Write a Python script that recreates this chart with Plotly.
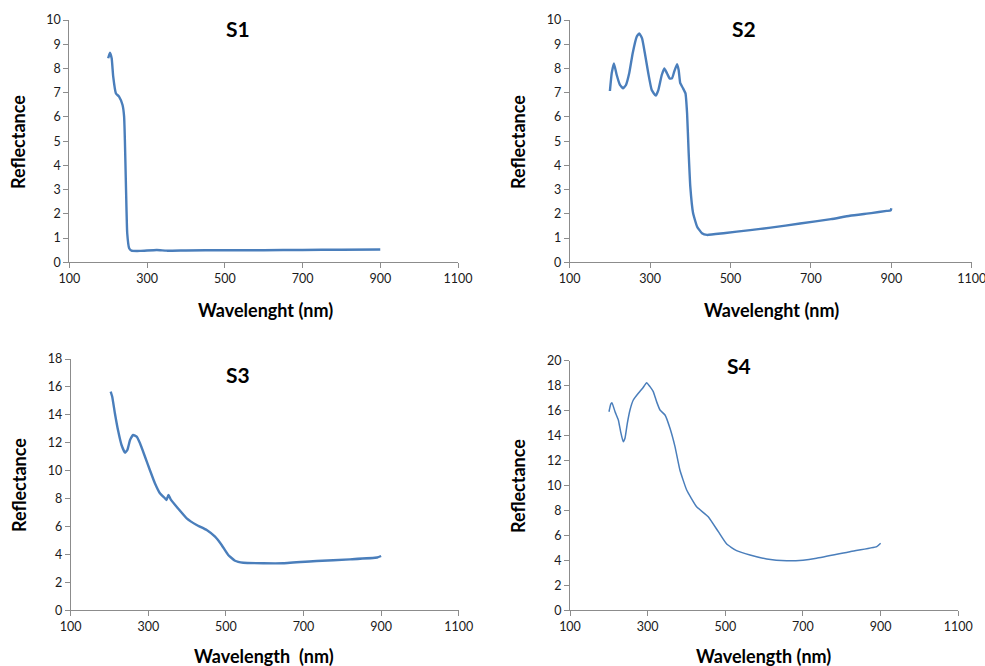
import plotly.graph_objects as go

# ---------------- data ----------------
s1_wl = [200, 204.6, 209, 213, 220, 228, 237, 241, 243, 246, 249, 254, 260, 282, 325, 350, 400, 500, 600, 700, 800, 900]
s1_refl = [8.42, 8.65, 8.42, 7.66, 6.97, 6.84, 6.49, 6.01, 5.05, 2.98, 1.2, 0.58, 0.48, 0.47, 0.51, 0.48, 0.49, 0.5, 0.5, 0.51, 0.52, 0.53]

s2_wl = [200, 204.5, 210, 217, 225, 233, 240, 248, 256.7, 266.7, 273, 280, 287, 295.5, 304, 314, 320.5, 329, 335.5,
         342, 348.5, 354.5, 360, 367, 371, 375, 382, 388, 392, 396, 400, 407, 417, 429, 441.5, 482.5, 549, 600,
         673, 750, 797, 850, 888.5, 898.5, 900]
s2_refl = [7.07, 7.8, 8.21, 7.73, 7.32, 7.18, 7.32, 7.8, 8.63, 9.31, 9.45, 9.24, 8.63, 7.8, 7.11, 6.88, 7.11, 7.73, 8.0,
           7.8, 7.59, 7.59, 7.87, 8.18, 7.94, 7.39, 7.18, 6.97, 6.15, 4.5, 3.12, 2.02, 1.47, 1.2, 1.13, 1.2, 1.33, 1.43,
           1.6, 1.78, 1.92, 2.03, 2.12, 2.14, 2.23]

s3_wl = [203, 207, 214, 222.7, 231, 240, 246, 253, 261, 270, 278.6, 291.5, 304, 317, 330, 343, 347, 352, 357.7, 373,
         399, 424.7, 450.5, 472, 489, 506, 523.5, 545, 596, 648, 734, 820, 890, 900]
s3_refl = [15.66, 15.3, 14.1, 12.8, 11.84, 11.29, 11.48, 12.2, 12.56, 12.44, 11.96, 11.0, 10.05, 9.1, 8.38, 8.02, 7.9,
           8.26, 7.95, 7.42, 6.59, 6.11, 5.75, 5.27, 4.68, 3.96, 3.55, 3.41, 3.37, 3.37, 3.53, 3.65, 3.78, 3.89]

s4_wl = [200.4, 205, 208, 216, 224.5, 230.5, 237, 241.6, 247.6, 254.5, 263, 276, 287, 297.5, 306, 314.5, 323, 331.8,
         344.7, 357.5, 370.4, 383, 400.5, 426, 456, 482, 503.5, 529, 563.6, 606.6, 658, 700, 735, 821, 890, 900]
s4_refl = [15.91, 16.53, 16.64, 15.91, 15.25, 14.3, 13.5, 13.78, 14.98, 16.05, 16.85, 17.39, 17.79, 18.24, 17.92, 17.52,
           16.72, 16.05, 15.65, 14.58, 13.11, 11.24, 9.64, 8.3, 7.5, 6.3, 5.31, 4.78, 4.43, 4.11, 3.97, 4.02, 4.17,
           4.7, 5.1, 5.37]

panel_titles = ["S1", "S2", "S3", "S4"]
x_titles = ["Wavelenght (nm)", "Wavelenght (nm)", "Wavelength\u00a0 (nm)", "Wavelength (nm)"]
y_title = "Reflectance"
x_range = [100, 1100]
y_ranges = [[0, 10], [0, 10], [0, 18], [0, 20]]
y_dticks = [1, 1, 2, 2]

# ---------------- figure ----------------
W, H = 985, 666
FONT = "Lato, 'Open Sans', sans-serif"
LINE_COLOR = "#4A7EBB"
AXIS_COLOR = "#8C8C8C"

# plot-area boxes in pixels: (left, right, top, bottom)
boxes = [(69.3, 458.0, 20.0, 262.3),
         (569.7, 971.7, 20.0, 262.3),
         (70.7, 458.7, 359.0, 610.3),
         (570.0, 958.3, 360.7, 610.3)]
title_pos = [(238, 28), (744, 28), (238, 374), (739, 365)]
xtitle_pos = [(265, 310), (771, 310), (264, 656), (763, 656)]
ytitle_pos = [(18, 142), (518, 142), (19, 485), (518, 486)]
widths = [2.4, 2.4, 2.4, 1.5]

series = [(s1_wl, s1_refl), (s2_wl, s2_refl), (s3_wl, s3_refl), (s4_wl, s4_refl)]

fig = go.Figure()
layout = dict(
    width=W, height=H,
    margin=dict(l=0, r=0, t=0, b=0, pad=0, autoexpand=False),
    paper_bgcolor="white", plot_bgcolor="white",
    showlegend=False,
    font=dict(family=FONT, color="#222222"),
)
annotations = []

def px_x(v):
    return v / W

def px_y(v):
    return 1 - v / H

for i, (wl, refl) in enumerate(series):
    n = "" if i == 0 else str(i + 1)
    fig.add_trace(go.Scatter(x=wl, y=refl, mode="lines",
                             line=dict(color=LINE_COLOR, width=widths[i], shape="spline", smoothing=0.4),
                             xaxis="x" + n, yaxis="y" + n, name=panel_titles[i]))
    l, r, t, b = boxes[i]
    layout["xaxis" + n] = dict(
        domain=[px_x(l), px_x(r)], anchor="y" + n, range=x_range, dtick=200, tick0=100,
        automargin=False, ticklabeloverflow="allow",
        showgrid=False, zeroline=False, showline=True, linecolor=AXIS_COLOR, linewidth=1,
        ticks="outside", ticklen=5, tickcolor=AXIS_COLOR,
        tickfont=dict(family=FONT, size=12.5, color="#1a1a1a"),
    )
    layout["yaxis" + n] = dict(
        domain=[px_y(b), px_y(t)], anchor="x" + n, range=y_ranges[i], dtick=y_dticks[i], tick0=0,
        automargin=False, ticklabeloverflow="allow",
        showgrid=False, zeroline=False, showline=True, linecolor=AXIS_COLOR, linewidth=1,
        ticks="outside", ticklen=5, tickcolor=AXIS_COLOR,
        tickfont=dict(family=FONT, size=12.5, color="#1a1a1a"),
    )
    tx, ty = title_pos[i]
    annotations.append(dict(text="<b>%s</b>" % panel_titles[i], x=px_x(tx), y=px_y(ty),
                            xref="paper", yref="paper", showarrow=False,
                            xanchor="center", yanchor="middle",
                            font=dict(family=FONT, size=21, color="#000000")))
    xx, xy = xtitle_pos[i]
    annotations.append(dict(text="<b>%s</b>" % x_titles[i], x=px_x(xx), y=px_y(xy),
                            xref="paper", yref="paper", showarrow=False,
                            xanchor="center", yanchor="middle",
                            font=dict(family=FONT, size=18, color="#000000")))
    yx, yy = ytitle_pos[i]
    annotations.append(dict(text="<b>%s</b>" % y_title, x=px_x(yx), y=px_y(yy),
                            xref="paper", yref="paper", showarrow=False, textangle=-90,
                            xanchor="center", yanchor="middle",
                            font=dict(family=FONT, size=18, color="#000000")))

layout["annotations"] = annotations
fig.update_layout(**layout)
fig.write_html("out.html")
